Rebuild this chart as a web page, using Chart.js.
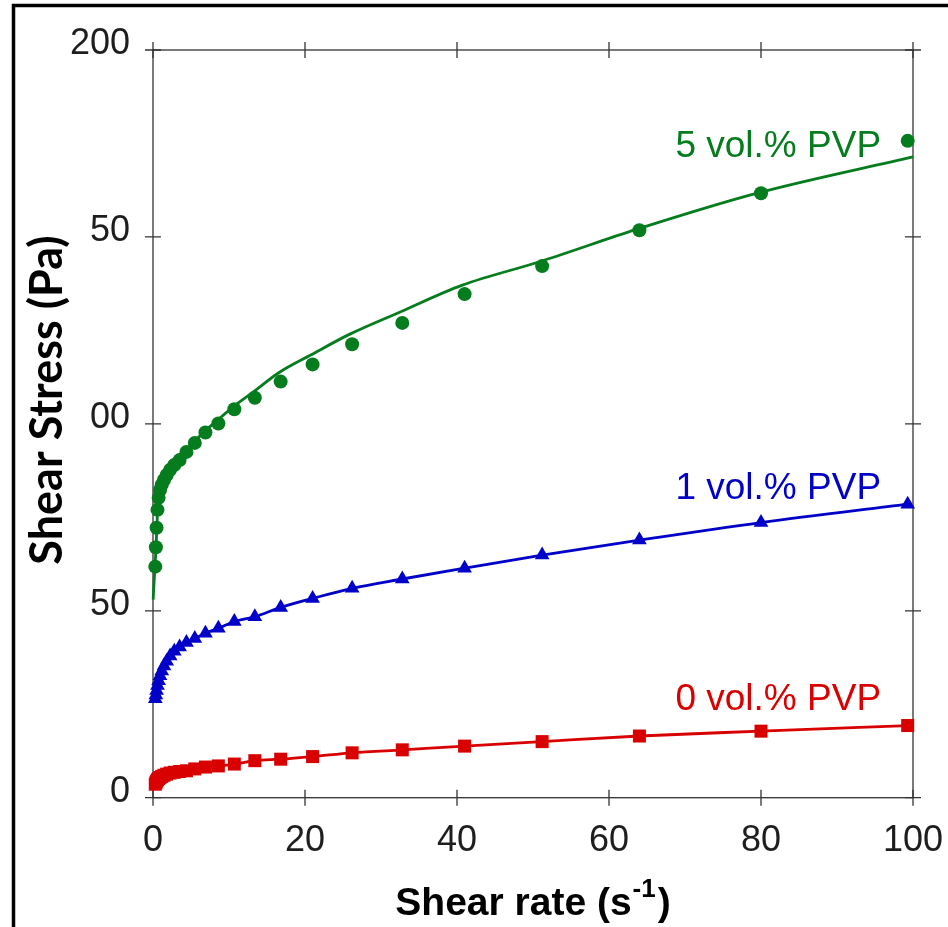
<!DOCTYPE html>
<html>
<head>
<meta charset="utf-8">
<script src="https://cdn.jsdelivr.net/npm/chart.js@4.4.1/dist/chart.umd.min.js"></script>
<style>
  html, body { margin: 0; padding: 0; background: #fff; }
  canvas { display: block; }
</style>
</head>
<body>
<canvas id="chart-canvas" width="948" height="927"></canvas>
<script>
// shear rate steps (s-1), shared by the three measured series
const shearRate = [0.3, 0.38, 0.47, 0.59, 0.74, 0.92, 1.15, 1.44, 1.8, 2.25, 2.8, 3.5, 4.4, 5.5, 6.9, 8.6, 10.7, 13.4, 16.8, 21, 26.2, 32.8, 41, 51.2, 64, 80, 99.3];

const stress5 = [61.8, 67.0, 72.2, 77.0, 80.2, 82.3, 83.7, 85.0, 86.3, 87.7, 89.0, 90.3, 92.5, 94.9, 97.7, 100.1, 103.9, 107.0, 111.3, 115.9, 121.3, 127.0, 134.7, 142.2, 151.8, 161.7, 175.7];
const stress1 = [26.5, 27.5, 28.7, 30.0, 31.3, 32.6, 33.9, 35.2, 36.5, 37.9, 39.2, 40.3, 41.5, 42.6, 44.0, 45.3, 47.1, 48.4, 50.9, 53.3, 56.0, 58.5, 61.4, 64.9, 68.9, 73.6, 78.5];
const stress0 = [3.6, 4.0, 4.4, 4.8, 5.1, 5.4, 5.7, 6.0, 6.3, 6.6, 6.8, 7.0, 7.2, 7.7, 8.2, 8.5, 9.0, 9.9, 10.3, 11.0, 12.0, 12.8, 13.8, 15.0, 16.5, 17.8, 19.3];

// fitted curve for 5 vol.%
const fit5Rate = [0.02, 0.26, 0.4, 0.5, 0.6, 0.75, 1, 1.5, 2.25, 3.5, 5.3, 6.75, 8.5, 10.6, 13.25, 16.5, 20.75, 25.9, 32.6, 40.7, 51.1, 63.6, 79.5, 100];
const fit5 = [53, 62, 67, 72, 76.5, 80, 82.5, 85.3, 87.9, 90.6, 95, 97.9, 101, 104.6, 108.6, 113.6, 118.4, 124, 130, 137.1, 143.5, 152, 161.7, 171.4];

const seriesNames = ['5 vol.% PVP', '1 vol.% PVP', '0 vol.% PVP'];
const xTicks = [0, 20, 40, 60, 80, 100];
const yTicks = [0, 50, 100, 150, 200];
const xTitle = 'Shear rate (s';
const xTitleSup = '-1';
const yTitle = 'Shear Stress (Pa)';

const GREEN = '#057c1d';
const BLUE = '#0000c8';
const RED = '#d90000';

const pts = (xs, ys) => xs.map((x, i) => ({ x: x, y: ys[i] }));

const decor = {
  id: 'decor',
  beforeDraw(chart) {
    const ctx = chart.ctx;
    ctx.save();
    ctx.fillStyle = '#fff';
    ctx.fillRect(0, 0, chart.width, chart.height);
    // outer border of the figure
    ctx.strokeStyle = '#000';
    ctx.lineWidth = 3.5;
    ctx.beginPath();
    ctx.moveTo(13.5, chart.height);
    ctx.lineTo(13.5, 5.5);
    ctx.lineTo(chart.width, 5.5);
    ctx.stroke();
    ctx.restore();
  },
  beforeDatasetsDraw(chart) {
    const { ctx, chartArea: a, scales } = chart;
    ctx.save();
    ctx.strokeStyle = '#333';
    ctx.lineWidth = 1.3;
    ctx.strokeRect(a.left, a.top, a.right - a.left, a.bottom - a.top);
    ctx.beginPath();
    xTicks.forEach(v => {
      const px = scales.x.getPixelForValue(v);
      ctx.moveTo(px, a.bottom - 8); ctx.lineTo(px, a.bottom + 8);
      ctx.moveTo(px, a.top - 8); ctx.lineTo(px, a.top + 8);
    });
    yTicks.forEach(v => {
      const py = scales.y.getPixelForValue(v);
      ctx.moveTo(a.left - 8, py); ctx.lineTo(a.left + 8, py);
      ctx.moveTo(a.right - 8, py); ctx.lineTo(a.right + 8, py);
    });
    ctx.stroke();
    ctx.restore();
  },
  afterDraw(chart) {
    const { ctx, chartArea: a, scales } = chart;
    ctx.save();

    // series labels
    ctx.font = '37px "Liberation Sans", Arial, sans-serif';
    ctx.textAlign = 'right';
    ctx.textBaseline = 'alphabetic';
    const lx = scales.x.getPixelForValue(95.8);
    [[GREEN, 171.4], [BLUE, 79.9], [RED, 23.5]].forEach((s, i) => {
      ctx.fillStyle = s[0];
      ctx.fillText(seriesNames[i], lx, scales.y.getPixelForValue(s[1]));
    });

    // x axis title with superscript
    ctx.fillStyle = '#000';
    ctx.textAlign = 'left';
    const big = 'bold 39px "Liberation Sans", Arial, sans-serif';
    const small = 'bold 26px "Liberation Sans", Arial, sans-serif';
    ctx.font = big;
    const w1 = ctx.measureText(xTitle).width;
    const w3 = ctx.measureText(')').width;
    ctx.font = small;
    const w2 = ctx.measureText(xTitleSup).width;
    const cx = (a.left + a.right) / 2;
    const x0 = cx - (w1 + w2 + w3 + 3) / 2;
    ctx.font = big;
    ctx.fillText(xTitle, x0, 915);
    ctx.fillText(')', x0 + w1 + w2 + 3, 915);
    ctx.font = small;
    ctx.fillText(xTitleSup, x0 + w1 + 1, 897);

    // y axis title sits on a white box, as in the original
    ctx.fillStyle = '#fff';
    ctx.fillRect(16, 205, 73, 385);
    ctx.translate(62, 400);
    ctx.rotate(-Math.PI / 2);
    ctx.font = 'bold 45px Lato, "Open Sans", sans-serif';
    ctx.textAlign = 'center';
    ctx.fillStyle = '#000';
    ctx.fillText(yTitle, 0, 0);
    ctx.restore();
  }
};

const tickFont = { family: '"Liberation Sans", Arial, sans-serif', size: 36 };

new Chart(document.getElementById('chart-canvas'), {
  type: 'scatter',
  data: {
    datasets: [
      {
        label: seriesNames[0] + ' fit',
        data: pts(fit5Rate, fit5),
        showLine: true,
        borderColor: GREEN,
        borderWidth: 2.8,
        pointRadius: 0,
        cubicInterpolationMode: 'monotone',
        clip: false
      },
      {
        label: seriesNames[0],
        data: pts(shearRate, stress5),
        showLine: false,
        pointStyle: 'circle',
        pointRadius: 7,
        backgroundColor: GREEN,
        borderColor: GREEN,
        pointBorderWidth: 0,
        clip: false
      },
      {
        label: seriesNames[1],
        data: pts(shearRate, stress1),
        showLine: true,
        borderColor: BLUE,
        borderWidth: 2.8,
        pointStyle: 'triangle',
        pointRadius: 8.5,
        backgroundColor: BLUE,
        pointBorderWidth: 0,
        cubicInterpolationMode: 'monotone',
        clip: false
      },
      {
        label: seriesNames[2],
        data: pts(shearRate, stress0),
        showLine: true,
        borderColor: RED,
        borderWidth: 2.8,
        pointStyle: 'rect',
        pointRadius: 9.2,
        backgroundColor: RED,
        pointBorderWidth: 0,
        cubicInterpolationMode: 'monotone',
        clip: false
      }
    ]
  },
  options: {
    responsive: false,
    animation: false,
    devicePixelRatio: 1,
    layout: { padding: { left: 13, top: 50, right: 35, bottom: 0 } },
    plugins: {
      legend: { display: false },
      tooltip: { enabled: false }
    },
    scales: {
      x: {
        type: 'linear',
        min: 0,
        max: 100,
        grid: { display: false, drawTicks: false },
        border: { display: false },
        afterBuildTicks(scale) { scale.ticks = xTicks.map(v => ({ value: v })); },
        afterFit(scale) {
          scale.height = 129.3;
          scale.paddingLeft = 0;
          scale.paddingRight = 0;
        },
        ticks: { padding: 22, maxRotation: 0, font: tickFont, color: '#1e1e1e' }
      },
      y: {
        type: 'linear',
        min: 0,
        max: 200,
        grid: { display: false, drawTicks: false },
        border: { display: false },
        afterBuildTicks(scale) { scale.ticks = yTicks.map(v => ({ value: v })); },
        afterFit(scale) {
          scale.width = 140;
          scale.paddingTop = 0;
          scale.paddingBottom = 0;
        },
        ticks: { padding: 23, labelOffset: -6, font: tickFont, color: '#1e1e1e' }
      }
    }
  },
  plugins: [decor]
});
</script>
</body>
</html>
